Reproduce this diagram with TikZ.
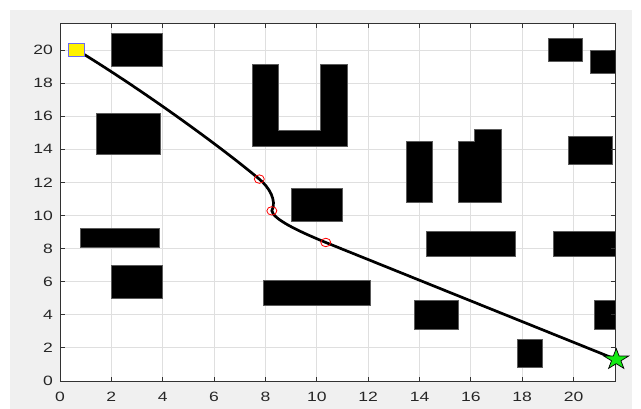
\documentclass[tikz,border=0pt]{standalone}
\usepackage{fontspec}
\usetikzlibrary{shapes.geometric}
\newfontfamily\tickfont{Liberation Sans}[FakeStretch=1.3]
\definecolor{figbg}{RGB}{240,240,240}
\definecolor{gridc}{RGB}{223,223,223}
\definecolor{axisc}{RGB}{50,50,50}
\definecolor{labc}{RGB}{38,38,38}
\definecolor{obsedge}{RGB}{90,90,90}
\definecolor{startblue}{RGB}{105,105,245}
\definecolor{goalgreen}{RGB}{20,235,20}
\tikzset{
  gridline/.style={draw=gridc, line width=0.8pt},
  axisline/.style={draw=axisc, line width=0.9pt},
  ticklab/.style={font=\tickfont\fontsize{13.5}{13.5}\selectfont, text=labc, inner sep=0pt},
  obstacle/.style={fill=black, draw=obsedge, line width=0.7pt},
  route/.style={draw=black, line width=2.7pt},
  waypt/.style={ellipse, draw=red, line width=0.8pt, minimum width=10pt, minimum height=8.5pt, inner sep=0pt},
  startmark/.style={rectangle, draw=startblue, fill=yellow, line width=1.1pt, minimum width=16pt, minimum height=12.5pt, inner sep=0pt},
  goalstar/.style={fill=goalgreen, draw=black, line width=0.7pt, line join=miter}
}
\begin{document}
\begin{tikzpicture}[x=1pt,y=-1pt]
\useasboundingbox (0,0) rectangle (641,409);
\fill[figbg] (10,10) rectangle (632,409);
\begin{scope}[shift={(60,381)},x=25.68pt,y=16.55pt]
  \fill[white] (0,0) rectangle (21.62,21.6);
  % grid
  \foreach \v in {2,4,...,20} {
    \draw[gridline] (\v,0) -- (\v,21.6);
    \draw[gridline] (0,\v) -- (21.62,\v);
  }
  % obstacles
  \draw[obstacle] (2,19) rectangle (4,21);
  \draw[obstacle] (1.4,13.7) rectangle (3.9,16.2);
  \draw[obstacle] (7.5,19.15) -- (8.5,19.15) -- (8.5,15.15) -- (10.15,15.15) -- (10.15,19.15) -- (11.2,19.15) -- (11.2,14.15) -- (7.5,14.15) -- cycle;
  \draw[obstacle] (19,19.3) rectangle (20.35,20.7);
  \draw[obstacle] (20.65,18.6) rectangle (21.62,20);
  \draw[obstacle] (19.8,13.1) rectangle (21.5,14.8);
  \draw[obstacle] (13.5,10.8) rectangle (14.5,14.5);
  \draw[obstacle] (15.5,10.8) -- (15.5,14.5) -- (16.15,14.5) -- (16.15,15.2) -- (17.2,15.2) -- (17.2,10.8) -- cycle;
  \draw[obstacle] (9,9.65) rectangle (11,11.65);
  \draw[obstacle] (0.8,8.1) rectangle (3.85,9.2);
  \draw[obstacle] (2,5) rectangle (4,7);
  \draw[obstacle] (7.9,4.55) rectangle (12.1,6.1);
  \draw[obstacle] (14.25,7.55) rectangle (17.75,9.05);
  \draw[obstacle] (19.2,7.55) rectangle (21.62,9.05);
  \draw[obstacle] (13.8,3.1) rectangle (15.5,4.85);
  \draw[obstacle] (20.8,3.1) rectangle (21.62,4.85);
  \draw[obstacle] (17.8,0.8) rectangle (18.8,2.5);
  % axes box and ticks
  \draw[axisline] (0,0) rectangle (21.62,21.6);
  \foreach \v in {0,2,...,20} {
    \draw[axisline] (\v,0) -- ++(0pt,4.5pt);
    \draw[axisline] (\v,21.6) -- ++(0pt,-4.5pt);
    \draw[axisline] (0,\v) -- ++(4.5pt,0pt);
    \draw[axisline] (21.62,\v) -- ++(-4.5pt,0pt);
    \node[ticklab, anchor=center] (xl\v) at ([yshift=-16pt]\v,0) {\v};
    \node[ticklab, anchor=east] (yl\v) at ([xshift=-7pt]0,\v) {\v};
  }
  % route
  \coordinate (s) at (0.66,20);
  \coordinate (p1) at (7.76,12.2);
  \coordinate (p2) at (8.25,10.28);
  \coordinate (p3) at (10.35,8.37);
  \coordinate (goal) at (21.66,1.3);
  \draw[route] (s) .. controls (3.3,17.5) and (6.3,14.1) .. (p1)
               .. controls (8.15,11.7) and (8.45,10.9) .. (p2)
               .. controls (8.3,9.8) and (9.2,9.1) .. (p3) -- (goal);
  \node[waypt] (w1) at (p1) {};
  \node[waypt] (w2) at (p2) {};
  \node[waypt] (w3) at (p3) {};
  \node[startmark] (start) at (s) {};
  \begin{scope}[shift={(goal)}, xscale=1.18]
    \draw[goalstar] (90:11pt) -- (126:4.2pt) -- (162:11pt) -- (198:4.2pt) -- (234:11pt) -- (270:4.2pt) -- (306:11pt) -- (342:4.2pt) -- (18:11pt) -- (54:4.2pt) -- cycle;
  \end{scope}
\end{scope}
\end{tikzpicture}
\end{document}
